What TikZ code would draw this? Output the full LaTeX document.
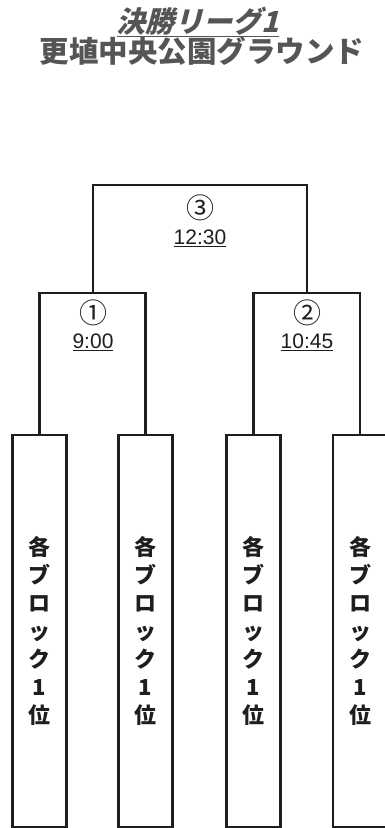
\documentclass[tikz,border=0pt]{standalone}
\usepackage{fontspec}
\newfontfamily\cjk{Noto Sans CJK JP}
\newfontfamily\cjkit{Noto Sans CJK JP}[FakeSlant=0.25]
\setmainfont{Liberation Sans}
\definecolor{ink}{HTML}{1E1E1E}
\definecolor{titlegray}{HTML}{555555}
\begin{document}
\begin{tikzpicture}[x=1pt,y=-1pt,
  line/.style={draw=ink,line width=2.2pt},
  blockbox/.style={draw=ink,line width=2.2pt,minimum width=54pt,minimum height=392pt,inner sep=0pt},
  vtext/.style={text=ink,align=center,font=\cjk\bfseries\fontsize{22}{28}\selectfont},
  circnum/.style={text=ink,font=\cjk\fontsize{28}{28}\selectfont,inner sep=0pt},
  timelbl/.style={text=ink,font=\fontsize{21}{21}\selectfont,inner sep=0pt}]
\useasboundingbox (0,0) rectangle (384,828);
\fill[white] (0,0) rectangle (384,828);
% titles
\node[text=titlegray,font=\cjkit\bfseries\fontsize{29}{29}\selectfont,inner sep=0pt] (title1) at (198,22) {\underline{決勝リーグ1}};
\node[text=titlegray,font=\cjk\bfseries\fontsize{29.5}{29.5}\selectfont,inner sep=0pt] (title2) at (202,51) {更埴中央公園グラウンド};
% boxes
\node[blockbox] (b1) at (39.5,631) {};
\node[blockbox] (b2) at (145.5,631) {};
\node[blockbox] (b3) at (253.5,631) {};
\node[blockbox] (b4) at (360,631) {};
\foreach \i in {1,2,3,4}{
  \node[vtext] (v\i) at (b\i.center) {各\\ブ\\ロ\\ッ\\ク\\1\\位};
}
% bracket junctions
\coordinate (j1) at (93,293);
\coordinate (j2) at (307,293);
\coordinate (j3) at (200,185);
\draw[line] (b1.north) |- (j1) -| (b2.north);
\draw[line] (b3.north) |- (j2) -| (b4.north);
\draw[line] (j1) |- (j3) -| (j2);
% labels
\node[circnum] (n3) at (200,208) {③};
\node[timelbl] (t3) at (200,238) {\underline{12:30}};
\node[circnum] (n1) at (93,313) {①};
\node[timelbl] (t1) at (93,342) {\underline{9:00}};
\node[circnum] (n2) at (307,313) {②};
\node[timelbl] (t2) at (307,342) {\underline{10:45}};
\end{tikzpicture}
\end{document}
